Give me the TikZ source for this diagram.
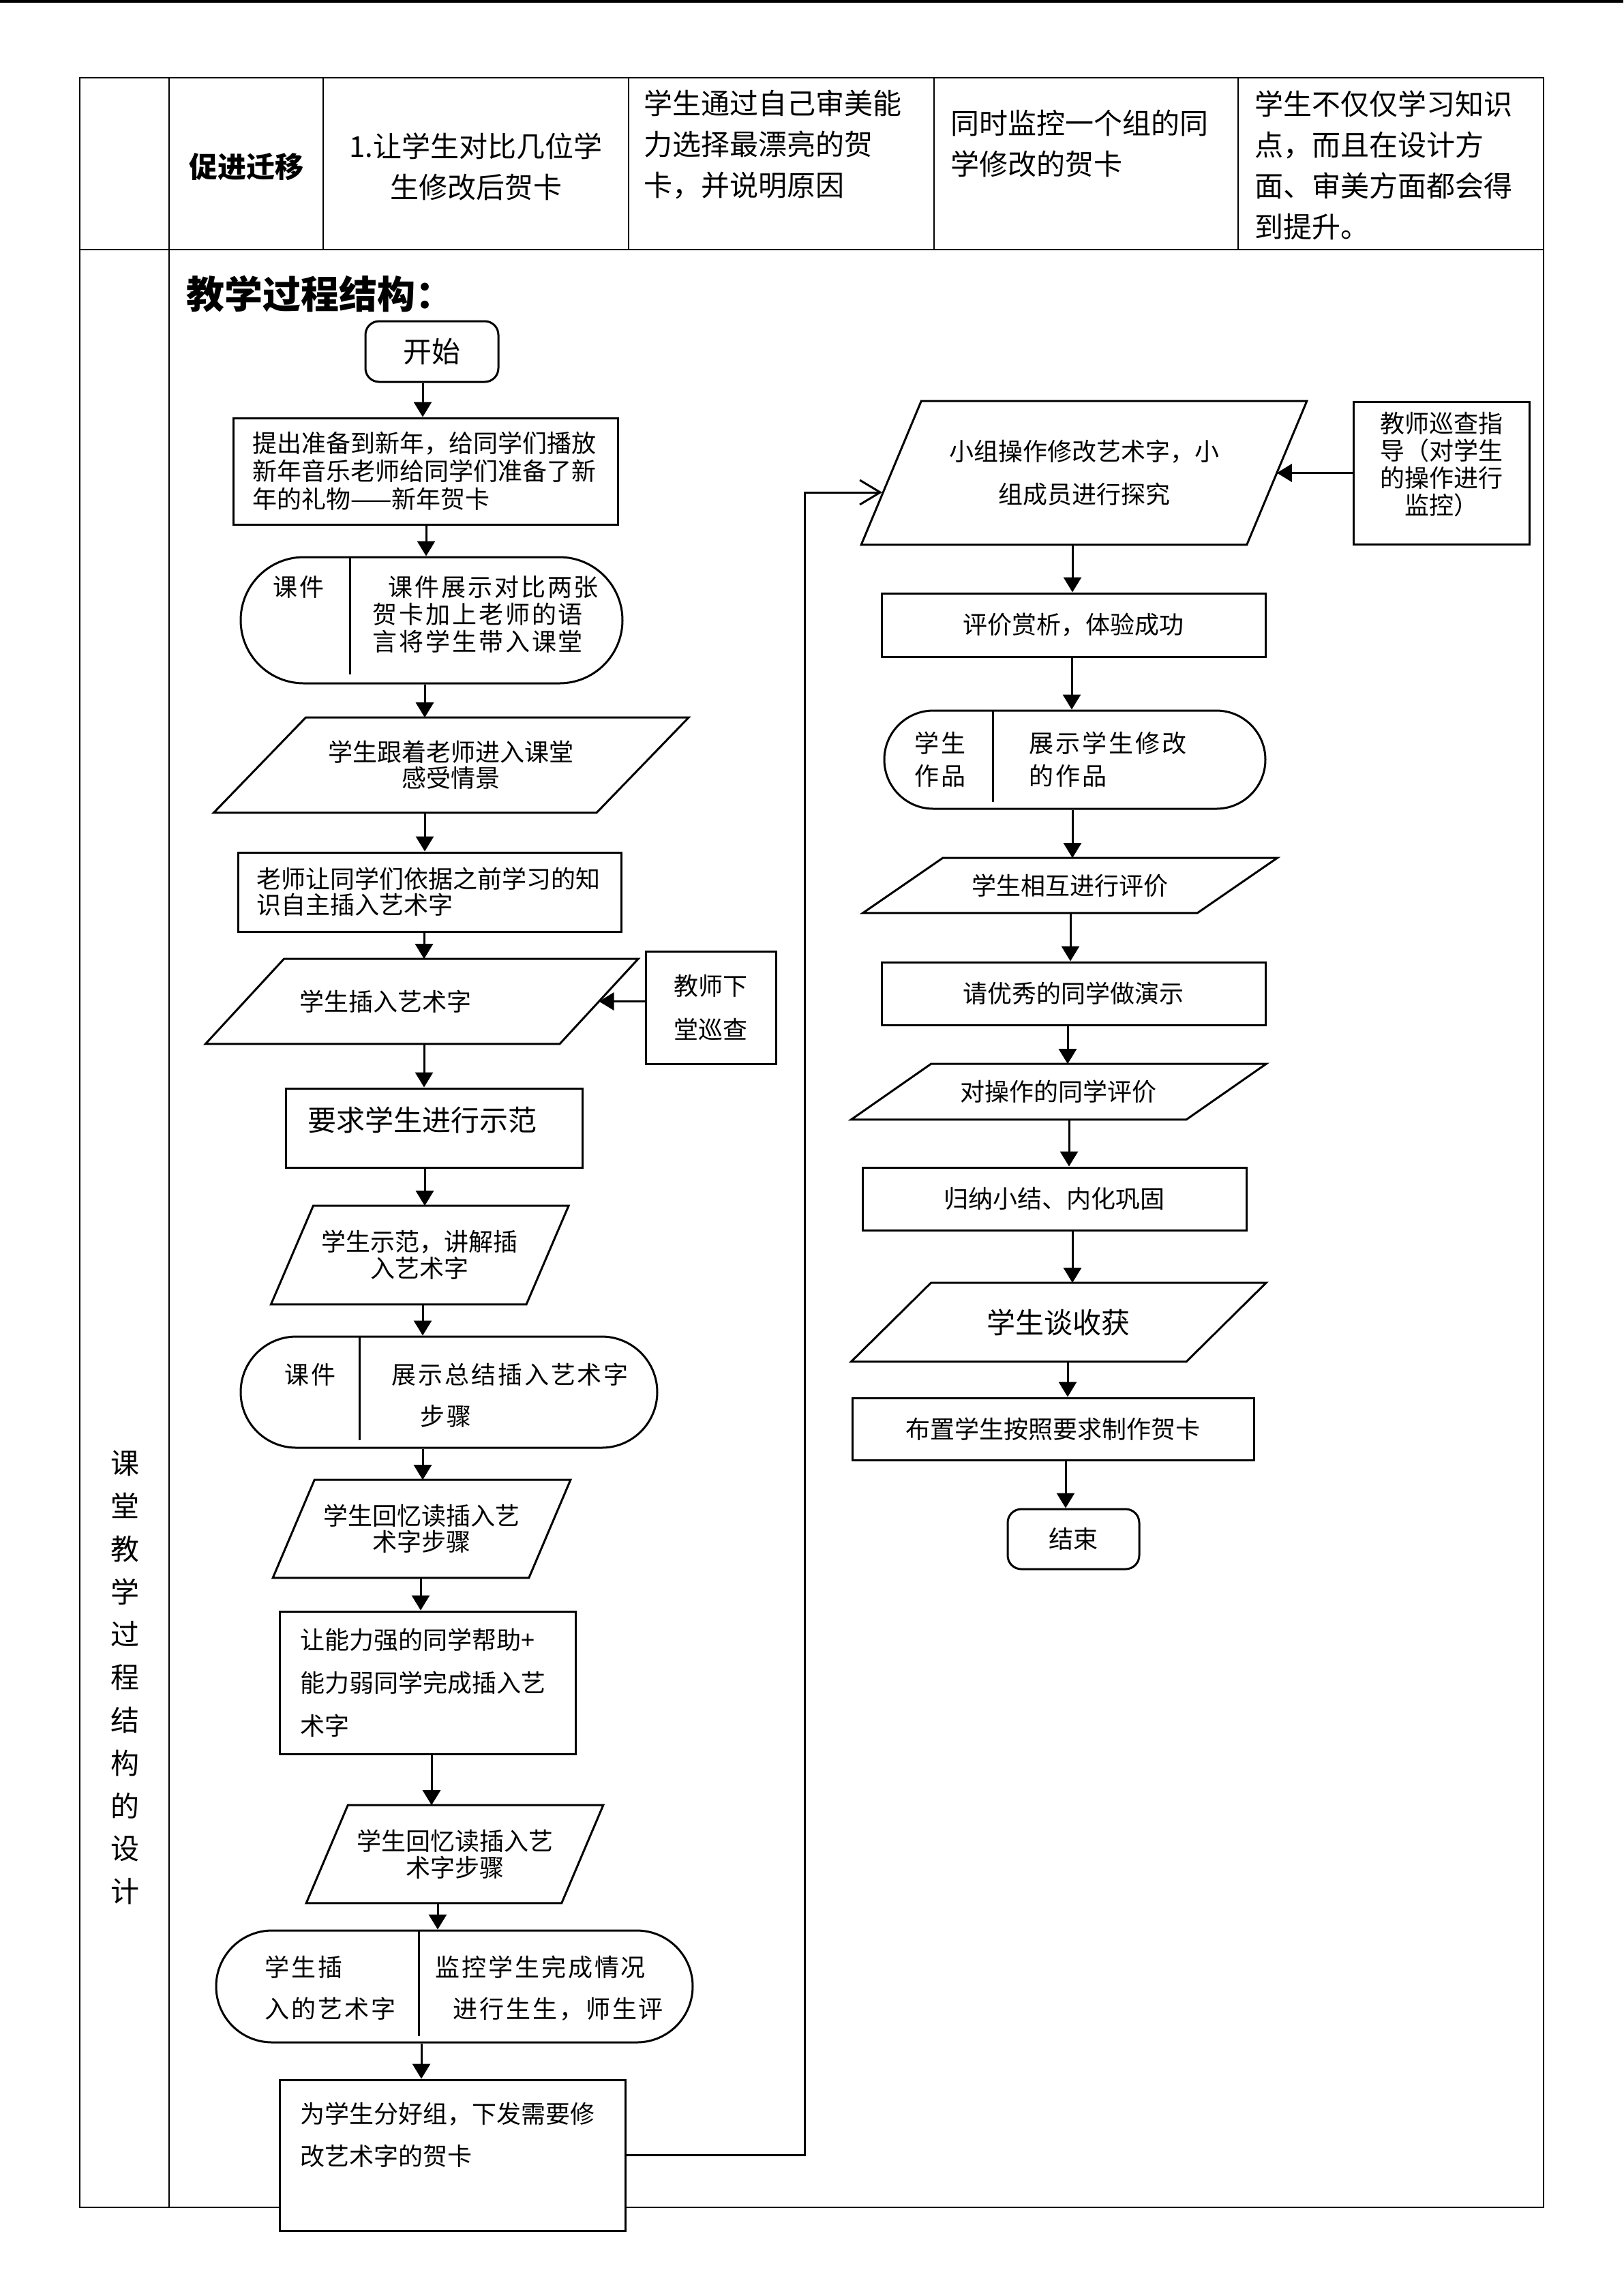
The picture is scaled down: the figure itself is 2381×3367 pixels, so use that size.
\documentclass[tikz,border=0pt]{standalone}
\usepackage{fontspec}
\setmainfont{Noto Sans CJK SC}
\usetikzlibrary{arrows.meta,calc,positioning}

% parallelogram outline round an invisible node, #2 = half shift
\newcommand{\slantbox}[2]{%
  \draw[line width=0.75pt] ($(#1.north west)+(#2,0)$) -- ($(#1.north east)+(#2,0)$)
    -- ($(#1.south east)-(#2,0)$) -- ($(#1.south west)-(#2,0)$) -- cycle;}

\begin{document}
\begin{tikzpicture}[x=0.25pt, y=-0.25pt,
    grid/.style={line width=0.5pt},
    cell/.style={inner sep=0pt, align=left, font=\fontsize{10.5}{15}\selectfont},
    box/.style={draw, line width=0.75pt, fill=white, inner sep=0pt, font=\fontsize{9}{10}\selectfont},
    term/.style={box, rounded corners=5pt},
    stad/.style={draw, line width=0.75pt, inner sep=0pt},
    para/.style={inner sep=0pt, align=center, font=\fontsize{9}{10}\selectfont},
    wide/.style={inner sep=0pt, align=left, font=\fontsize{9}{15.25}\selectfont\addfontfeature{LetterSpace=8}},
    arr/.style={line width=0.75pt, -{Triangle[width=6.5pt,length=5.5pt]}},
    back/.style={line width=0.75pt, -{Straight Barb[width=9pt,length=7.5pt]}}]
  \useasboundingbox (0,0) rectangle (2381,3367);
  \fill (0,0) rectangle (2381,4);
  % table
  \draw[grid] (117,114) rectangle (2264,3237);
  \draw[grid] (248,114) -- (248,3237);
  \draw[grid] (117,366) -- (2264,366);
  \foreach \x in {474,922,1370,1816} \draw[grid] (\x,114) -- (\x,366);

  \node[cell, font=\fontsize{10.5}{15}\selectfont\bfseries] (move) at (361,245) {促进迁移};
  \node[cell, align=center] (compare) at (698,244) {1.让学生对比几位学\\生修改后贺卡};
  \node[cell, anchor=west] (choose) at (944,212) {学生通过自己审美能\\力选择最漂亮的贺\\卡，并说明原因};
  \node[cell, anchor=west] (watch) at (1394,211) {同时监控一个组的同\\学修改的贺卡};
  \node[cell, anchor=west] (gain) at (1840,242) {学生不仅仅学习知识\\点，而且在设计方\\面、审美方面都会得\\到提升。};
  \node[cell, anchor=west, font=\fontsize{14}{16}\selectfont\bfseries] (title) at (273,431) {教学过程结构：};
  \node[cell, align=center, font=\fontsize{10.5}{15.7}\selectfont] (side) at (183,2460) {课\\堂\\教\\学\\过\\程\\结\\构\\的\\设\\计};

  % left column
  \node[term, minimum width=48.75pt, minimum height=22.25pt, font=\fontsize{10.5}{12}\selectfont] (start) at (633.5,515.5) {开始};
  \node[box, minimum width=141pt, minimum height=39pt, text width=127pt, align=left, font=\fontsize{9}{10.25}\selectfont] (R1) at (624,691) {提出准备到新年，给同学们播放\\新年音乐老师给同学们准备了新\\年的礼物——新年贺卡};
  \node[stad, minimum width=140pt, minimum height=46.25pt, rounded corners=23.125pt] (S1) at (633,909.5) {};
  \draw[line width=0.75pt] (513,817) -- (513,989);
  \node[wide] (S1a) at (438,861) {课件};
  \node[wide, anchor=west, font=\fontsize{9}{10}\selectfont\addfontfeature{LetterSpace=8}] (S1b) at (546,901) {\hspace*{5.75pt}课件展示对比两张\\贺卡加上老师的语\\言将学生带入课堂};
  \node[para, minimum width=140pt, minimum height=34.5pt, font=\fontsize{9}{9.5}\selectfont] (P1) at (661.75,1122) {学生跟着老师进入课堂\\感受情景};
  \slantbox{P1}{67.5}
  \node[box, minimum width=140.5pt, minimum height=29pt, text width=127pt, align=left, font=\fontsize{9}{9.5}\selectfont] (R2) at (630,1308) {老师让同学们依据之前学习的知\\识自主插入艺术字};
  \node[para, minimum width=129.5pt, minimum height=30.75pt, text width=89.5pt, align=left] (P2) at (618.75,1468.5) {学生插入艺术字};
  \slantbox{P2}{57.5}
  \node[box, minimum width=47.75pt, minimum height=41.25pt, align=center, font=\fontsize{9}{16}\selectfont] (T1) at (1042.5,1477.5) {教师下\\堂巡查};
  \node[box, minimum width=108.75pt, minimum height=29pt, text width=92.75pt, text depth=6.8pt, align=left, font=\fontsize{10.5}{12}\selectfont] (R3) at (636.5,1654) {要求学生进行示范};
  \node[para, minimum width=93.25pt, minimum height=35.75pt, font=\fontsize{9}{9.75}\selectfont] (P3) at (615.75,1840.5) {学生示范，讲解插\\入艺术字};
  \slantbox{P3}{31}
  \node[stad, minimum width=152.75pt, minimum height=40.75pt, rounded corners=20.375pt] (S2) at (658.5,2041.5) {};
  \draw[line width=0.75pt] (527,1960) -- (527,2112);
  \node[wide] (S2a) at (455,2016) {课件};
  \node[wide, anchor=west] (S2b) at (574,2046.5) {展示总结插入艺术字\\\hspace*{10.5pt}步骤};
  \node[para, minimum width=93.5pt, minimum height=35.5pt, font=\fontsize{9}{9.5}\selectfont] (P4) at (618.5,2242) {学生回忆读插入艺\\术字步骤};
  \slantbox{P4}{30.5}
  \node[box, minimum width=108.5pt, minimum height=52.25pt, text width=93.5pt, align=left, font=\fontsize{9}{15.75}\selectfont] (R4) at (627,2467.5) {让能力强的同学帮助+\\能力弱同学完成插入艺\\术字};
  \node[para, minimum width=93.25pt, minimum height=35.5pt, font=\fontsize{9}{9.75}\selectfont] (P5) at (667,2719) {学生回忆读插入艺\\术字步骤};
  \slantbox{P5}{30.5}
  \node[stad, minimum width=174.75pt, minimum height=41pt, rounded corners=20.5pt] (S3) at (666.5,2913) {};
  \draw[line width=0.75pt] (614,2831) -- (614,2986);
  \node[wide, anchor=west] (S3a) at (388,2915.5) {学生插\\入的艺术字};
  \node[wide, anchor=west] (S3b) at (638,2915.5) {监控学生完成情况\\\hspace*{6.5pt}进行生生，师生评};
  \node[box, minimum width=126.75pt, minimum height=55.25pt, text width=111.75pt, align=left, font=\fontsize{9}{15.5}\selectfont] (R5) at (663.5,3160.5) {为学生分好组，下发需要修\\改艺术字的贺卡\\\mbox{}};

  % right column
  \node[para, minimum width=141pt, minimum height=52.25pt, font=\fontsize{9}{15.75}\selectfont] (P6) at (1590,693.5) {小组操作修改艺术字，小\\组成员进行探究};
  \slantbox{P6}{44}
  \node[box, minimum width=64.5pt, minimum height=52.25pt, text depth=6.9pt, align=center] (T2) at (2114,693.5) {教师巡查指\\导（对学生\\的操作进行\\监控）};
  \node[box, minimum width=140.75pt, minimum height=23.25pt] (R6) at (1574.5,916.5) {评价赏析，体验成功};
  \node[stad, minimum width=139.75pt, minimum height=36pt, rounded corners=18pt] (S4) at (1576.5,1114) {};
  \draw[line width=0.75pt] (1456,1042) -- (1456,1176);
  \node[wide, font=\fontsize{9}{12}\selectfont\addfontfeature{LetterSpace=8}] (S4a) at (1379,1114) {学生\\作品};
  \node[wide, anchor=west, font=\fontsize{9}{12}\selectfont\addfontfeature{LetterSpace=8}] (S4b) at (1509,1114) {展示学生修改\\的作品};
  \node[para, minimum width=122.25pt, minimum height=19.75pt] (P7) at (1569.5,1298.5) {学生相互进行评价};
  \slantbox{P7}{58.5}
  \node[box, minimum width=140.75pt, minimum height=23pt] (R7) at (1574.5,1457) {请优秀的同学做演示};
  \node[para, minimum width=122.5pt, minimum height=20pt] (P8) at (1552.75,1601) {对操作的同学评价};
  \slantbox{P8}{58.5}
  \node[box, minimum width=140.75pt, minimum height=23pt] (R8) at (1546.5,1758) {归纳小结、内化巩固};
  \node[para, minimum width=122.5pt, minimum height=28.5pt, font=\fontsize{10.5}{12}\selectfont] (P9) at (1552.75,1939) {学生谈收获};
  \slantbox{P9}{58.5}
  \node[box, minimum width=147.25pt, minimum height=22.75pt] (R9) at (1544.5,2095.5) {布置学生按照要求制作贺卡};
  \node[term, minimum width=48.25pt, minimum height=22pt] (finish) at (1574.5,2257) {结束};

  % connectors
  \foreach \a/\b/\x in {start/R1/620, R1/S1/625, S1/P1/623, P1/R2/623, R2/P2/622, P2/R3/622,
      R3/P3/623, P3/S2/620, S2/P4/620, P4/R4/617, R4/P5/633, P5/S3/642, S3/R5/618,
      P6/R6/1573, R6/S4/1572, S4/P7/1573, P7/R7/1570, R7/P8/1566, P8/R8/1568,
      R8/P9/1573, P9/R9/1566, R9/finish/1563} {
    \coordinate (ax) at (\x,0);
    \draw[arr] (ax |- \a.south) -- (ax |- \b.north);
  }
  \draw[arr] (T1.west |- P2.east) -- (P2.east);
  \draw[arr] (T2.west) -- (P6.east);
  \coordinate (fb) at (1294,722);
  \draw[back] (R5.east) -- ++(262,0) |- (fb);
\end{tikzpicture}
\end{document}
